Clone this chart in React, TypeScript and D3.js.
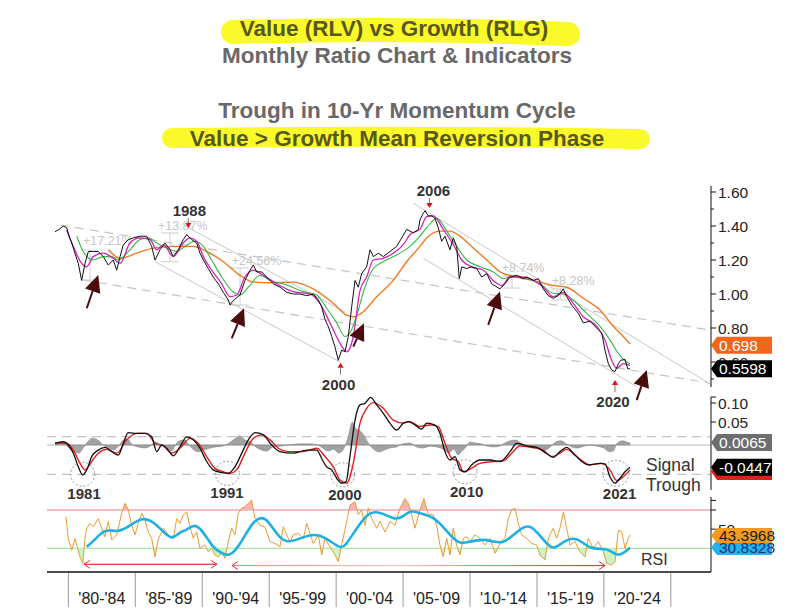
import React from 'react';
import * as d3 from 'd3';

type P = [number, number];

// ---- Main panel: Value/Growth ratio and moving averages (year, value) ----
const ratio: P[] = [
  [1979.0, 1.366], [1979.3, 1.38], [1979.62, 1.40], [1979.87, 1.39], [1980.1, 1.33], [1980.25, 1.30],
  [1980.49, 1.24], [1980.74, 1.18], [1980.99, 1.08], [1981.24, 1.18], [1981.49, 1.25], [1981.86, 1.25],
  [1982.23, 1.25], [1982.61, 1.22], [1982.98, 1.17], [1983.35, 1.20], [1983.61, 1.14], [1983.86, 1.22],
  [1984.1, 1.29], [1984.48, 1.32], [1984.85, 1.33], [1985.35, 1.34], [1985.85, 1.34], [1986.22, 1.28],
  [1986.47, 1.20], [1986.84, 1.26], [1987.22, 1.30], [1987.59, 1.26], [1987.84, 1.22], [1988.21, 1.26],
  [1988.58, 1.32], [1988.84, 1.35], [1989.21, 1.32], [1989.58, 1.30], [1989.83, 1.24], [1990.08, 1.20],
  [1990.45, 1.15], [1990.82, 1.10], [1991.2, 1.06], [1991.57, 1.01], [1991.94, 0.965], [1992.07, 0.935],
  [1992.2, 0.95], [1992.44, 0.97], [1992.82, 0.994], [1993.19, 1.08], [1993.57, 1.14], [1993.81, 1.17],
  [1994.07, 1.13], [1994.44, 1.13], [1994.81, 1.10], [1995.31, 1.06], [1995.81, 1.04], [1996.31, 1.01],
  [1996.8, 1.00], [1997.3, 1.00], [1997.8, 0.99], [1998.29, 1.00], [1998.67, 0.965], [1998.92, 0.925],
  [1999.17, 0.85], [1999.41, 0.81], [1999.67, 0.75], [1999.91, 0.69], [2000.16, 0.61], [2000.41, 0.67],
  [2000.66, 0.66], [2000.91, 0.75], [2001.16, 0.925], [2001.41, 1.08], [2001.65, 1.04], [2001.91, 1.12],
  [2002.28, 1.16], [2002.53, 1.26], [2002.78, 1.22], [2003.15, 1.24], [2003.52, 1.22], [2004.02, 1.25],
  [2004.52, 1.28], [2004.9, 1.33], [2005.27, 1.38], [2005.76, 1.36], [2006.14, 1.38], [2006.26, 1.435],
  [2006.51, 1.475], [2006.64, 1.49], [2006.88, 1.46], [2007.14, 1.46], [2007.38, 1.445], [2007.63, 1.39],
  [2007.88, 1.31], [2008.13, 1.34], [2008.5, 1.26], [2008.75, 1.33], [2009.0, 1.28], [2009.2, 1.09],
  [2009.38, 1.16], [2009.75, 1.15], [2010.12, 1.16], [2010.5, 1.15], [2010.87, 1.10], [2011.25, 1.12],
  [2011.62, 1.06], [2012.24, 1.03], [2012.61, 1.06], [2012.99, 1.10], [2013.49, 1.11], [2013.98, 1.09],
  [2014.23, 1.10], [2014.73, 1.08], [2015.1, 1.09], [2015.47, 1.03], [2015.85, 0.99], [2016.22, 0.975],
  [2016.59, 0.99], [2016.97, 1.03], [2017.22, 0.985], [2017.59, 0.935], [2018.09, 0.886], [2018.46, 0.83],
  [2018.96, 0.84], [2019.46, 0.80], [2019.84, 0.77], [2020.08, 0.67], [2020.33, 0.59], [2020.58, 0.553],
  [2020.83, 0.543], [2021.08, 0.59], [2021.25, 0.61], [2021.58, 0.615], [2021.78, 0.56], [2021.95, 0.56],
];

const maShort: P[] = [
  [1979.87, 1.376], [1980.37, 1.28], [1980.99, 1.18], [1981.37, 1.16], [1981.86, 1.22], [1982.61, 1.24],
  [1983.35, 1.21], [1983.86, 1.18], [1984.6, 1.30], [1985.35, 1.33], [1986.1, 1.32], [1986.6, 1.26],
  [1987.1, 1.29], [1987.84, 1.22], [1988.58, 1.30], [1989.08, 1.33], [1989.58, 1.31], [1990.08, 1.22],
  [1990.7, 1.14], [1991.45, 1.06], [1992.07, 0.984], [1992.57, 0.994], [1993.19, 1.10], [1993.81, 1.14],
  [1994.56, 1.11], [1995.56, 1.06], [1996.8, 1.014], [1998.05, 1.00], [1998.79, 0.945], [1999.54, 0.83],
  [2000.29, 0.71], [2000.79, 0.66], [2001.28, 0.75], [2001.78, 1.02], [2002.28, 1.10], [2002.78, 1.20],
  [2003.52, 1.21], [2004.27, 1.24], [2005.02, 1.29], [2005.52, 1.35], [2006.26, 1.38], [2006.76, 1.455],
  [2007.26, 1.46], [2008.0, 1.38], [2008.75, 1.29], [2009.38, 1.20], [2010.12, 1.16], [2010.99, 1.14],
  [2011.87, 1.07], [2012.37, 1.05], [2012.99, 1.10], [2013.98, 1.10], [2014.73, 1.08], [2015.47, 1.04],
  [2016.22, 0.984], [2016.97, 1.01], [2017.71, 0.945], [2018.46, 0.866], [2019.46, 0.81], [2020.08, 0.73],
  [2020.58, 0.61], [2020.96, 0.563], [2021.45, 0.59], [2021.95, 0.58],
];

const maMid: P[] = [
  [1980.62, 1.34], [1981.11, 1.25], [1981.86, 1.20], [1982.61, 1.22], [1983.24, 1.22], [1983.73, 1.20],
  [1984.6, 1.26], [1985.35, 1.32], [1985.97, 1.33], [1986.6, 1.30], [1987.34, 1.27], [1988.09, 1.25],
  [1988.71, 1.28], [1989.46, 1.31], [1990.08, 1.28], [1990.7, 1.20], [1991.45, 1.10], [1992.2, 1.02],
  [1992.82, 0.994], [1993.44, 1.04], [1994.31, 1.11], [1995.06, 1.08], [1996.05, 1.06], [1997.55, 1.014],
  [1998.55, 0.994], [1999.29, 0.916], [2000.04, 0.83], [2000.66, 0.75], [2001.16, 0.79], [2001.65, 0.906],
  [2002.15, 1.04], [2002.78, 1.15], [2003.52, 1.19], [2004.52, 1.23], [2005.52, 1.28], [2006.26, 1.34],
  [2006.76, 1.39], [2007.51, 1.445], [2008.26, 1.37], [2009.0, 1.28], [2009.75, 1.20], [2010.74, 1.16],
  [2011.74, 1.13], [2012.49, 1.09], [2013.24, 1.106], [2014.23, 1.09], [2015.23, 1.06], [2016.22, 1.004],
  [2016.97, 1.00], [2017.71, 0.965], [2018.71, 0.886], [2019.71, 0.81], [2020.45, 0.73], [2021.08, 0.65],
  [2021.7, 0.60], [2021.95, 0.59],
];

const maLong: P[] = [
  [1982.98, 1.26], [1983.86, 1.21], [1985.1, 1.24], [1986.34, 1.27], [1987.84, 1.28], [1989.33, 1.28],
  [1990.33, 1.25], [1991.57, 1.19], [1992.82, 1.11], [1993.81, 1.07], [1995.31, 1.066], [1996.8, 1.07],
  [1998.29, 1.03], [1999.79, 0.945], [2000.79, 0.876], [2001.28, 0.866], [2002.03, 0.896], [2003.03, 0.984],
  [2004.27, 1.08], [2005.27, 1.19], [2006.26, 1.28], [2006.76, 1.33], [2007.75, 1.37], [2008.5, 1.37],
  [2009.25, 1.34], [2010.24, 1.27], [2011.25, 1.20], [2012.24, 1.13], [2013.49, 1.10], [2014.73, 1.08],
  [2016.22, 1.05], [2017.22, 1.04], [2018.46, 0.975], [2019.71, 0.906], [2020.7, 0.81], [2021.45, 0.75],
  [2021.95, 0.706],
];

// ---- Middle panel: 10-yr momentum, signal, histogram ----
const momentum: P[] = [
  [1979.0, -0.006], [1979.62, -0.002], [1979.99, -0.0105], [1980.37, -0.032], [1980.74, -0.068], [1981.07, -0.089],
  [1981.37, -0.076], [1981.74, -0.041], [1982.23, -0.024], [1982.74, -0.017], [1983.24, -0.028], [1983.73, -0.037],
  [1984.1, -0.006], [1984.48, 0.022], [1985.1, 0.020], [1985.72, 0.020], [1986.22, 0.011], [1986.6, -0.028],
  [1986.97, -0.0105], [1987.34, -0.019], [1987.84, -0.039], [1988.34, -0.015], [1988.84, 0.011], [1989.33, 0.003],
  [1989.83, -0.019], [1990.33, -0.054], [1990.82, -0.076], [1991.45, -0.083], [1991.94, -0.085], [1992.44, -0.068],
  [1992.95, -0.032], [1993.44, 0.003], [1993.94, 0.022], [1994.56, 0.016], [1995.19, -0.0105], [1995.81, -0.028],
  [1996.8, -0.032], [1997.8, -0.024], [1998.55, -0.024], [1998.92, -0.046], [1999.29, -0.068], [1999.67, -0.076],
  [2000.04, -0.098], [2000.41, -0.111], [2000.74, -0.107], [2001.03, -0.041], [2001.41, 0.055], [2001.78, 0.095],
  [2002.15, 0.099], [2002.58, 0.115], [2003.03, 0.095], [2003.52, 0.073], [2004.02, 0.047], [2004.52, 0.029],
  [2005.02, 0.047], [2005.39, 0.051], [2005.89, 0.042], [2006.39, 0.031], [2006.76, 0.047], [2007.38, 0.042],
  [2007.76, 0.020], [2008.13, -0.028], [2008.5, -0.050], [2008.88, -0.041], [2009.25, -0.076], [2009.63, -0.081],
  [2010.12, -0.063], [2010.74, -0.050], [2011.49, -0.050], [2012.24, -0.054], [2012.99, -0.028], [2013.49, -0.006],
  [2014.23, -0.013], [2014.98, -0.017], [2015.72, -0.033], [2016.22, -0.043], [2016.72, -0.028], [2017.22, -0.017],
  [2017.71, -0.032], [2018.34, -0.054], [2018.83, -0.063], [2019.71, -0.059], [2020.08, -0.060], [2020.45, -0.094],
  [2020.83, -0.111], [2021.2, -0.098], [2021.58, -0.081], [2021.95, -0.069],
];

const signal: P[] = [
  [1979.0, -0.005], [1979.87, -0.006], [1980.37, -0.024], [1980.87, -0.059], [1981.24, -0.076], [1981.74, -0.054],
  [1982.23, -0.032], [1982.86, -0.022], [1983.61, -0.032], [1984.36, 0.003], [1985.1, 0.020], [1985.85, 0.020],
  [1986.47, -0.006], [1987.1, -0.013], [1987.72, -0.032], [1988.34, -0.019], [1989.08, 0.007], [1989.7, -0.006],
  [1990.33, -0.041], [1990.95, -0.072], [1991.57, -0.081], [1992.07, -0.085], [1992.57, -0.076], [1993.19, -0.032],
  [1993.81, 0.007], [1994.44, 0.016], [1995.06, 0.003], [1995.68, -0.019], [1996.43, -0.028], [1997.55, -0.028],
  [1998.55, -0.019], [1999.17, -0.041], [1999.79, -0.068], [2000.29, -0.103], [2000.79, -0.111], [2001.28, -0.059],
  [2001.78, 0.047], [2002.28, 0.086], [2002.78, 0.101], [2003.52, 0.086], [2004.27, 0.055], [2005.02, 0.047],
  [2005.52, 0.051], [2006.26, 0.038], [2007.01, 0.042], [2007.63, 0.038], [2008.13, -0.006], [2008.63, -0.046],
  [2009.12, -0.054], [2009.5, -0.081], [2010.0, -0.074], [2010.74, -0.059], [2011.74, -0.054], [2012.49, -0.052],
  [2013.11, -0.032], [2013.74, -0.013], [2014.73, -0.017], [2015.47, -0.024], [2016.1, -0.041], [2016.72, -0.032],
  [2017.22, -0.022], [2017.84, -0.037], [2018.46, -0.054], [2018.96, -0.063], [2019.84, -0.059], [2020.45, -0.076],
  [2020.96, -0.104], [2021.45, -0.094], [2021.95, -0.076],
];

const histogram: P[] = [
  [1979.0, 0], [1979.4, 0.008], [1979.8, 0], [1980.3, -0.016], [1980.8, -0.021], [1981.1, -0.008], [1981.5, 0.011],
  [1981.8, 0.018], [1982.2, 0.013], [1982.6, 0], [1983.0, -0.008], [1983.4, -0.013], [1983.8, 0], [1984.1, 0.013],
  [1984.4, 0.016], [1984.8, 0], [1985.2, -0.005], [1985.7, -0.008], [1986.1, -0.003], [1986.5, 0.008], [1986.9, 0],
  [1987.3, -0.005], [1987.7, -0.016], [1988.0, 0], [1988.3, 0.011], [1988.7, 0.013], [1989.0, 0], [1989.3, -0.011],
  [1989.7, -0.018], [1990.1, -0.013], [1990.6, -0.008], [1991.0, -0.005], [1991.5, -0.003], [1992.0, 0.005],
  [1992.4, 0.016], [1992.8, 0.024], [1993.2, 0.013], [1993.6, 0.008], [1994.0, -0.005], [1994.4, -0.013],
  [1994.8, -0.016], [1995.3, -0.005], [1995.8, -0.003], [1996.5, 0], [1997.3, 0.003], [1998.0, 0.003], [1998.6, 0],
  [1999.0, -0.008], [1999.4, -0.016], [1999.8, -0.011], [2000.2, -0.021], [2000.6, -0.008], [2000.9, 0.021],
  [2001.2, 0.060], [2001.5, 0.042], [2001.8, 0.037], [2002.1, 0.024], [2002.4, 0.005], [2002.8, -0.011],
  [2003.2, -0.018], [2003.6, -0.013], [2004.0, -0.008], [2004.5, -0.005], [2005.0, 0.003], [2005.5, 0.005],
  [2006.0, -0.005], [2006.5, -0.008], [2007.0, -0.003], [2007.5, -0.005], [2008.0, -0.011], [2008.4, -0.021],
  [2008.8, -0.011], [2009.1, -0.026], [2009.4, -0.016], [2009.7, -0.005], [2010.0, 0.008], [2010.4, 0.005],
  [2010.8, 0.003], [2011.3, -0.003], [2011.8, -0.005], [2012.2, -0.003], [2012.6, 0.005], [2013.0, 0.011],
  [2013.4, 0.013], [2013.8, 0.005], [2014.2, -0.003], [2014.7, -0.008], [2015.2, -0.011], [2015.6, -0.013],
  [2016.0, -0.005], [2016.4, 0.008], [2016.8, 0.011], [2017.2, 0.003], [2017.6, -0.005], [2018.0, -0.008],
  [2018.5, -0.003], [2019.0, 0], [2019.5, -0.003], [2020.0, -0.008], [2020.4, -0.018], [2020.7, -0.016],
  [2021.0, 0.005], [2021.4, 0.011], [2021.7, 0.008], [2021.95, 0.005],
];

// ---- Bottom panel: RSI and its average ----
const rsi: P[] = [
  [1979.82, 63], [1979.99, 40.4], [1980.25, 28], [1980.49, 40], [1980.66, 31.7], [1980.87, 21], [1981.07, 14.3],
  [1981.24, 40], [1981.37, 51], [1981.61, 56], [1981.86, 52.5], [1982.23, 61], [1982.49, 51], [1982.73, 42],
  [1982.98, 58], [1983.24, 38.7], [1983.61, 44], [1983.98, 66.5], [1984.23, 77], [1984.48, 70], [1984.73, 54],
  [1984.98, 44], [1985.22, 56], [1985.48, 66.5], [1985.72, 59.5], [1985.97, 47], [1986.22, 40.4], [1986.47, 21],
  [1986.72, 40], [1987.1, 51], [1987.47, 44], [1987.84, 40], [1988.09, 61], [1988.34, 56], [1988.58, 65],
  [1988.84, 68], [1989.08, 52.5], [1989.33, 40.4], [1989.58, 47], [1989.83, 30], [1990.2, 33.5], [1990.45, 26.5],
  [1990.7, 30], [1990.95, 23], [1991.2, 21], [1991.45, 25], [1991.7, 19.6], [1991.94, 37], [1992.2, 51],
  [1992.44, 44], [1992.69, 66.5], [1992.95, 72], [1993.19, 73.4], [1993.44, 77], [1993.69, 80.4], [1993.94, 61],
  [1994.31, 54], [1994.68, 52.5], [1995.06, 37], [1995.43, 35], [1995.81, 31.7], [1996.05, 52.5], [1996.31, 44],
  [1996.55, 37], [1996.8, 44], [1997.17, 45.7], [1997.55, 40.4], [1997.8, 56], [1998.05, 45.7], [1998.29, 35],
  [1998.67, 44], [1998.92, 23], [1999.17, 40.4], [1999.54, 31.7], [1999.91, 23], [2000.16, 16], [2000.41, 33.5],
  [2000.79, 58], [2001.03, 75], [2001.41, 78.6], [2001.65, 65], [2001.91, 70], [2002.15, 54], [2002.4, 72],
  [2002.66, 61], [2003.03, 51], [2003.28, 58], [2003.65, 47], [2004.02, 58], [2004.4, 54], [2004.77, 72],
  [2005.14, 82], [2005.39, 77], [2005.64, 65], [2005.89, 51], [2006.26, 70], [2006.56, 82], [2006.88, 65],
  [2007.26, 65], [2007.51, 54], [2007.75, 33.5], [2008.0, 21], [2008.26, 40.4], [2008.5, 23], [2008.75, 51],
  [2009.0, 33.5], [2009.25, 23], [2009.5, 40.4], [2009.75, 42], [2010.0, 37], [2010.37, 44], [2010.74, 40.4],
  [2011.12, 33.5], [2011.49, 40.4], [2011.87, 24.8], [2012.24, 35], [2012.61, 40.4], [2012.86, 61], [2013.11, 70],
  [2013.36, 72], [2013.61, 56], [2013.86, 44], [2014.23, 40.4], [2014.61, 35], [2014.98, 33.5], [2015.23, 23],
  [2015.6, 17.8], [2015.85, 40.4], [2016.22, 51], [2016.47, 40.4], [2016.72, 51], [2016.97, 68], [2017.22, 51],
  [2017.47, 33.5], [2017.84, 37], [2018.21, 26.5], [2018.59, 21], [2018.83, 40.4], [2019.21, 30], [2019.58, 37],
  [2019.96, 26.5], [2020.21, 14.3], [2020.58, 12.6], [2020.83, 16], [2021.08, 49], [2021.33, 47], [2021.58, 30],
  [2021.82, 40.4], [2021.95, 44],
];

const rsiAvg: P[] = [
  [1981.37, 31.7], [1981.86, 37], [1982.73, 51], [1983.61, 46.7], [1984.36, 51], [1985.48, 63], [1986.34, 57.8],
  [1987.1, 47.3], [1987.72, 38.7], [1988.34, 47.3], [1988.84, 49], [1989.46, 56], [1990.08, 47.3], [1990.82, 30],
  [1991.45, 24.8], [1992.07, 21.2], [1992.82, 33.5], [1993.81, 59.5], [1994.68, 64.8], [1995.56, 44], [1996.31, 35],
  [1997.3, 40.4], [1998.42, 45.7], [1999.29, 40.4], [2000.29, 30], [2000.66, 31.7], [2001.53, 51], [2002.53, 70],
  [2003.52, 66.5], [2004.4, 59.5], [2005.02, 63], [2005.52, 70], [2006.26, 66.5], [2007.26, 63], [2008.0, 52.5],
  [2008.63, 42], [2009.25, 34.2], [2010.0, 37], [2010.99, 39.7], [2011.74, 37], [2012.49, 35], [2013.24, 44],
  [2013.98, 52.5], [2014.48, 53.6], [2014.98, 47.3], [2015.72, 35], [2016.22, 28.3], [2016.97, 37], [2017.71, 41.5],
  [2018.34, 37], [2018.96, 30], [2019.71, 29.3], [2020.33, 29.3], [2020.96, 22], [2021.45, 24.8], [2021.95, 30.6],
];

// ---- Axes / labels ----
const priceTicks = [1.6, 1.4, 1.2, 1.0, 0.8, 0.6];
const priceMinorTicks = [1.5, 1.3, 1.1, 0.9, 0.7, 0.5];
const momTicks = [0.1, 0.05];
const rsiTicks = [80, 70, 50];
const periodStarts = [1980, 1985, 1990, 1995, 2000, 2005, 2010, 2015, 2020, 2025];
const periodLabels = ["'80-'84", "'85-'89", "'90-'94", "'95-'99", "'00-'04", "'05-'09", "'10-'14", "'15-'19", "'20-'24"];

// Last-value tags
const lastRatio = 0.5598;
const lastLongMa = 0.698;
const lastHist = 0.0065;
const lastMomentum = -0.0447;
const lastRsi = 43.3968;
const lastRsiAvg = 30.8328;

// Annotations in data coordinates
const dashedTrends: [P, P][] = [
  [[1979.37, 1.406], [2027.92, 0.788]],
  [[1981.09, 1.082], [2027.92, 0.476]],
];
const solidTrends: [P, P][] = [
  [[2005.76, 1.534], [2028.05, 0.465]],
  [[2006.51, 1.21], [2022.45, 0.455]],
  [[1986.47, 1.19], [2000.29, 0.60]],
  [[1988.86, 1.394], [2000.66, 0.894]],
];
const arrowsMain: [P, P][] = [
  [[1981.37, 0.916], [1982.23, 1.112]],
  [[1992.2, 0.739], [1993.12, 0.916]],
  [[2001.28, 0.69], [2002.08, 0.828]],
  [[2011.36, 0.818], [2012.24, 1.014]],
  [[2022.45, 0.376], [2023.2, 0.553]],
];
const turnLabels = [
  { label: '1988', year: 1988.96, value: 1.388, dir: 'down', dx: 1 },
  { label: '2006', year: 2006.97, value: 1.506, dir: 'down', dx: 4 },
  { label: '2000', year: 2000.33, value: 0.596, dir: 'up', dx: -2 },
  { label: '2020', year: 2020.83, value: 0.494, dir: 'up', dx: -2 },
];
const measures = [
  { text: '+17.21%', year: 1981.09, value: 1.288, bx: 1981.61, lo: 1.082, hi: 1.259 },
  { text: '+13.87%', year: 1986.69, value: 1.376, bx: 1987.59, lo: 1.19, hi: 1.359 },
  { text: '+24.56%', year: 1992.2, value: 1.171, bx: 1992.82, lo: 0.935, hi: 1.153 },
  { text: '+8.74%', year: 2012.37, value: 1.131, bx: 2013.14, lo: 1.035, hi: 1.106 },
  { text: '+8.28%', year: 2016.1, value: 1.053, bx: 2016.75, lo: 0.965, hi: 1.03 },
];
const troughCircles = [
  { label: '1981', year: 1981.07, value: -0.0876, ly: 1981.17, r: 12 },
  { label: '1991', year: 1991.87, value: -0.085, ly: 1991.85, r: 12 },
  { label: '2000', year: 2000.49, value: -0.089, ly: 2000.66, r: 12 },
  { label: '2010', year: 2009.63, value: -0.081, ly: 2009.75, r: 12 },
  { label: '2021', year: 2020.9, value: -0.085, ly: 2021.17, r: 13 },
];
const momBands = [0.0113, -0.0876];
const rsiArrows: [P, P][] = [
  [[1981.17, 13.3], [1991.1, 13.3]],
  [[1992.22, 12.0], [2020.08, 12.0]],
];

const FONT = '"Liberation Sans", Arial, Helvetica, sans-serif';

function Tag({ y, text, fill, color, h = 17 }: { y: number; text: string; fill: string; color: string; h?: number }) {
  const x0 = 711;
  const pts = `${x0},${y} ${x0 + 6},${y - h / 2} ${772},${y - h / 2} ${772},${y + h / 2} ${x0 + 6},${y + h / 2}`;
  return (
    <g>
      <polygon points={pts} fill={fill} />
      {text ? <text x={x0 + 8} y={y + 5.5} fontSize={15.5} fill={color} fontFamily={FONT}>{text}</text> : null}
    </g>
  );
}

function Arrow({ a, b, x, y }: { a: P; b: P; x: (v: number) => number; y: (v: number) => number }) {
  const x1 = x(a[0]), y1 = y(a[1]), x2 = x(b[0]), y2 = y(b[1]);
  const ang = Math.atan2(y2 - y1, x2 - x1);
  const L = 17, W = 8;
  const bx = x2 - L * Math.cos(ang), by = y2 - L * Math.sin(ang);
  const px = -Math.sin(ang), py = Math.cos(ang);
  const head = `${x2},${y2} ${bx + W * px},${by + W * py} ${bx - W * px},${by - W * py}`;
  return (
    <g>
      <line x1={x1} y1={y1} x2={bx} y2={by} stroke="#4a0c0c" strokeWidth={2} />
      <polygon points={head} fill="#4a0c0c" />
    </g>
  );
}

export default function App() {
  const x = d3.scaleLinear().domain([1979, 2028]).range([55, 711]);
  const yP = d3.scaleLinear().domain([0.4, 1.6]).range([396, 192]);
  const yM = d3.scaleLinear().domain([-0.1, 0.1]).range([479, 403]);
  const yH = d3.scaleLinear().domain([-0.1, 0.1]).range([483, 407]);
  const yR = d3.scaleLinear().domain([30, 70]).range([548.3, 510]);

  const lineP = d3.line<P>().x((d) => x(d[0])).y((d) => yP(d[1]));
  const smoothP = d3.line<P>().x((d) => x(d[0])).y((d) => yP(d[1])).curve(d3.curveMonotoneX);
  const lineM = d3.line<P>().x((d) => x(d[0])).y((d) => yM(d[1])).curve(d3.curveMonotoneX);
  const areaH = d3.area<P>().x((d) => x(d[0])).y0(yH(0)).y1((d) => yH(d[1])).curve(d3.curveMonotoneX);
  const lineR = d3.line<P>().x((d) => x(d[0])).y((d) => yR(d[1]));
  const lineRA = d3.line<P>().x((d) => x(d[0])).y((d) => yR(d[1])).curve(d3.curveBasis);
  const areaHi = d3.area<P>().x((d) => x(d[0])).y0(yR(70)).y1((d) => yR(d[1]));
  const areaLo = d3.area<P>().x((d) => x(d[0])).y0(yR(30)).y1((d) => yR(d[1]));

  const left = 47;
  const right = 711;
  const a2 = rsiArrows[1];

  return (
    <svg width={802} height={613} style={{ position: 'absolute', left: 0, top: 0, background: '#fff' }} fontFamily={FONT}>
      <defs>
        <clipPath id="above70"><rect x={0} y={490} width={802} height={yR(70) - 490} /></clipPath>
        <clipPath id="below30"><rect x={0} y={yR(30)} width={802} height={40} /></clipPath>
        <linearGradient id="fadeRed" gradientUnits="userSpaceOnUse" x1={x(a2[0][0])} x2={x(a2[1][0])} y1={0} y2={0}>
          <stop offset="0" stopColor="#ee8c8c" />
          <stop offset="0.45" stopColor="#f7c4c4" />
          <stop offset="1" stopColor="#e83030" />
        </linearGradient>
      </defs>

      {/* Titles */}
      <path d="M233,32 Q400,27 568,34" stroke="#fafa2a" strokeWidth={24} strokeLinecap="round" fill="none" />
      <path d="M172,138 Q400,135 640,139" stroke="#fafa2a" strokeWidth={20} strokeLinecap="round" fill="none" />
      <g fontWeight="bold" fontSize={22.5} textAnchor="middle">
        <text x={394} y={36} fill="#58581c">Value (RLV) vs Growth (RLG)</text>
        <text x={397} y={63} fill="#686868">Monthly Ratio Chart &amp; Indicators</text>
        <text x={397} y={118} fill="#686868">Trough in 10-Yr Momentum Cycle</text>
        <text x={397} y={146} fill="#58581c">Value &gt; Growth Mean Reversion Phase</text>
      </g>

      {/* Main panel trend lines */}
      {dashedTrends.map((t, i) => (
        <line key={'dt' + i} x1={x(t[0][0])} y1={yP(t[0][1])} x2={x(t[1][0])} y2={yP(t[1][1])}
          stroke="#c4c4c4" strokeWidth={1.2} strokeDasharray="9,6" />
      ))}
      {solidTrends.map((t, i) => (
        <line key={'st' + i} x1={x(t[0][0])} y1={yP(t[0][1])} x2={x(t[1][0])} y2={yP(t[1][1])}
          stroke="#c8c8c8" strokeWidth={1} />
      ))}

      {/* Measurement annotations */}
      {measures.map((m, i) => (
        <g key={'m' + i} stroke="#cfcfcf" strokeWidth={1}>
          <line x1={x(m.bx)} y1={yP(m.lo)} x2={x(m.bx)} y2={yP(m.hi)} />
          <line x1={x(m.bx) - 9} y1={yP(m.lo)} x2={x(m.bx) + 9} y2={yP(m.lo)} />
          <line x1={x(m.bx) - 9} y1={yP(m.hi)} x2={x(m.bx) + 9} y2={yP(m.hi)} />
          <text x={x(m.year)} y={yP(m.value)} fontSize={12.5} fill="#c6c6c6" stroke="none">{m.text}</text>
        </g>
      ))}

      {/* Ratio & moving averages */}
      <path d={smoothP(maLong) || ''} fill="none" stroke="#f07a22" strokeWidth={1.4} />
      <path d={smoothP(maMid) || ''} fill="none" stroke="#34b845" strokeWidth={1.1} />
      <path d={smoothP(maShort) || ''} fill="none" stroke="#d623b8" strokeWidth={1.3} />
      <path d={lineP(ratio) || ''} fill="none" stroke="#111" strokeWidth={1} />

      {/* Turning-point labels */}
      {turnLabels.map((t, i) => {
        const tx = x(t.year), ty = yP(t.value);
        if (t.dir === 'down') {
          return (
            <g key={'tl' + i}>
              <line x1={tx} y1={ty - 10} x2={tx} y2={ty - 5} stroke="#555" strokeWidth={0.8} />
              <polygon points={`${tx - 3},${ty - 5} ${tx + 3},${ty - 5} ${tx},${ty}`} fill="#e01010" />
              <text x={tx + t.dx} y={ty - 12} fontSize={15} fontWeight="bold" fill="#333" textAnchor="middle">{t.label}</text>
            </g>
          );
        }
        return (
          <g key={'tl' + i}>
            <polygon points={`${tx - 3},${ty + 5} ${tx + 3},${ty + 5} ${tx},${ty}`} fill="#e01010" />
            <line x1={tx} y1={ty + 5} x2={tx} y2={ty + 12} stroke="#555" strokeWidth={0.8} />
            <text x={tx + t.dx} y={ty + 27} fontSize={15} fontWeight="bold" fill="#333" textAnchor="middle">{t.label}</text>
          </g>
        );
      })}

      {/* Arrows */}
      {arrowsMain.map((a, i) => <Arrow key={'a' + i} a={a[0]} b={a[1]} x={x} y={yP} />)}

      {/* Main right axis */}
      <line x1={right} y1={186} x2={right} y2={387} stroke="#111" strokeWidth={1} />
      {priceMinorTicks.map((t) => (
        <line key={'pm' + t} x1={right} x2={right + 3} y1={yP(t)} y2={yP(t)} stroke="#111" />
      ))}
      {priceTicks.map((t) => (
        <g key={'pt' + t}>
          <line x1={right} x2={right + 5} y1={yP(t)} y2={yP(t)} stroke="#111" />
          <text x={right + 7} y={yP(t) + 5.5} fontSize={15.5} fill="#222">{t.toFixed(2)}</text>
        </g>
      ))}
      <Tag y={yP(lastLongMa)} text={lastLongMa.toFixed(3)} fill="#f2661a" color="#fff" />
      <Tag y={yP(lastRatio)} text={lastRatio.toFixed(4)} fill="#000" color="#fff" />

      {/* Middle panel */}
      {momBands.map((b, i) => (
        <line key={'mb' + i} x1={left} x2={right} y1={yM(b)} y2={yM(b)} stroke="#c4c4c4" strokeWidth={1.2} strokeDasharray="9,6" />
      ))}
      <line x1={left} x2={right} y1={yH(0)} y2={yH(0)} stroke="#b8b8b8" strokeWidth={1} />
      <path d={areaH(histogram) || ''} fill="#a2a2a2" stroke="#7a7a7a" strokeWidth={0.5} />
      <path d={lineM(signal) || ''} fill="none" stroke="#e01e1e" strokeWidth={1.4} />
      <path d={lineM(momentum) || ''} fill="none" stroke="#111" strokeWidth={1.3} />
      {troughCircles.map((c, i) => (
        <g key={'tc' + i}>
          <circle cx={x(c.year)} cy={yM(c.value)} r={c.r} fill="none" stroke="#777" strokeWidth={0.8} strokeDasharray="2,2" />
          <text x={x(c.ly)} y={yM(c.value) + c.r + 13} fontSize={15} fontWeight="bold" fill="#333" textAnchor="middle">{c.label}</text>
        </g>
      ))}
      <text x={646} y={470.5} fontSize={17.5} fill="#333">Signal</text>
      <text x={646} y={490.5} fontSize={17.5} fill="#333">Trough</text>

      <line x1={right} y1={397} x2={right} y2={490} stroke="#111" strokeWidth={1} />
      <line x1={right} x2={right + 5} y1={397} y2={397} stroke="#111" />
      {momTicks.map((t) => (
        <g key={'mt' + t}>
          <line x1={right} x2={right + 5} y1={yM(t)} y2={yM(t)} stroke="#111" />
          <text x={right + 7} y={yM(t) + 5.5} fontSize={15.5} fill="#222">{t.toFixed(2)}</text>
        </g>
      ))}
      <Tag y={yH(lastHist)} text={lastHist.toFixed(4)} fill="#6e6e6e" color="#fff" />
      <Tag y={yM(signal[signal.length - 1][1]) + 1.5} text="" fill="#e01e1e" color="#fff" />
      <Tag y={yM(momentum[momentum.length - 1][1])} text={lastMomentum.toFixed(4)} fill="#000" color="#fff" />

      {/* RSI panel */}
      <line x1={left} x2={right} y1={yR(70)} y2={yR(70)} stroke="#e08080" strokeWidth={1} />
      <line x1={left} x2={right} y1={yR(30)} y2={yR(30)} stroke="#8ee08e" strokeWidth={1} />
      <path d={areaHi(rsi) || ''} fill="#f6b4b4" clipPath="url(#above70)" />
      <path d={areaLo(rsi) || ''} fill="#cdf3c4" clipPath="url(#below30)" />
      <path d={lineR(rsi) || ''} fill="none" stroke="#eb9a30" strokeWidth={1} />
      <path d={lineRA(rsiAvg) || ''} fill="none" stroke="#1fb0e2" strokeWidth={2.6} />
      {rsiArrows.map((a, i) => {
        const x1 = x(a[0][0]), x2 = x(a[1][0]), yy = yR(a[0][1]);
        const col = i === 0 ? '#e03030' : 'url(#fadeRed)';
        const headCol = '#e03030';
        return (
          <g key={'ra' + i} fill="none" strokeWidth={1}>
            <rect x={x1} y={yy - 0.6} width={x2 - x1} height={1.2} fill={col} stroke="none" />
            <polyline points={`${x1 + 6},${yy - 4} ${x1},${yy} ${x1 + 6},${yy + 4}`} stroke={headCol} />
            <polyline points={`${x2 - 6},${yy - 4} ${x2},${yy} ${x2 - 6},${yy + 4}`} stroke={headCol} />
          </g>
        );
      })}
      <text x={641} y={565} fontSize={16} fill="#333">RSI</text>

      <line x1={right} y1={497} x2={right} y2={572} stroke="#111" strokeWidth={1} />
      {rsiTicks.map((t) => (
        <line key={'rt' + t} x1={right} x2={right + 5} y1={yR(t)} y2={yR(t)} stroke="#111" />
      ))}
      <text x={right + 7} y={yR(50) + 5.5} fontSize={15.5} fill="#222">50</text>
      <Tag y={yR(lastRsiAvg)} text={lastRsiAvg.toFixed(4)} fill="#1fb4ee" color="#17307a" h={15} />
      <Tag y={yR(lastRsi)} text={lastRsi.toFixed(4)} fill="#f59a1c" color="#1a1a1a" h={15} />

      {/* Bottom time axis */}
      <line x1={left} x2={right} y1={572} y2={572} stroke="#111" strokeWidth={1.5} />
      {periodStarts.map((p) => (
        <line key={'ps' + p} x1={x(p)} x2={x(p)} y1={573} y2={607} stroke="#9a9a9a" strokeWidth={1} />
      ))}
      {periodLabels.map((l, i) => (
        <text key={'pl' + i} x={x(periodStarts[i] + 2.5)} y={604} fontSize={16} fill="#222" textAnchor="middle">{l}</text>
      ))}
    </svg>
  );
}
